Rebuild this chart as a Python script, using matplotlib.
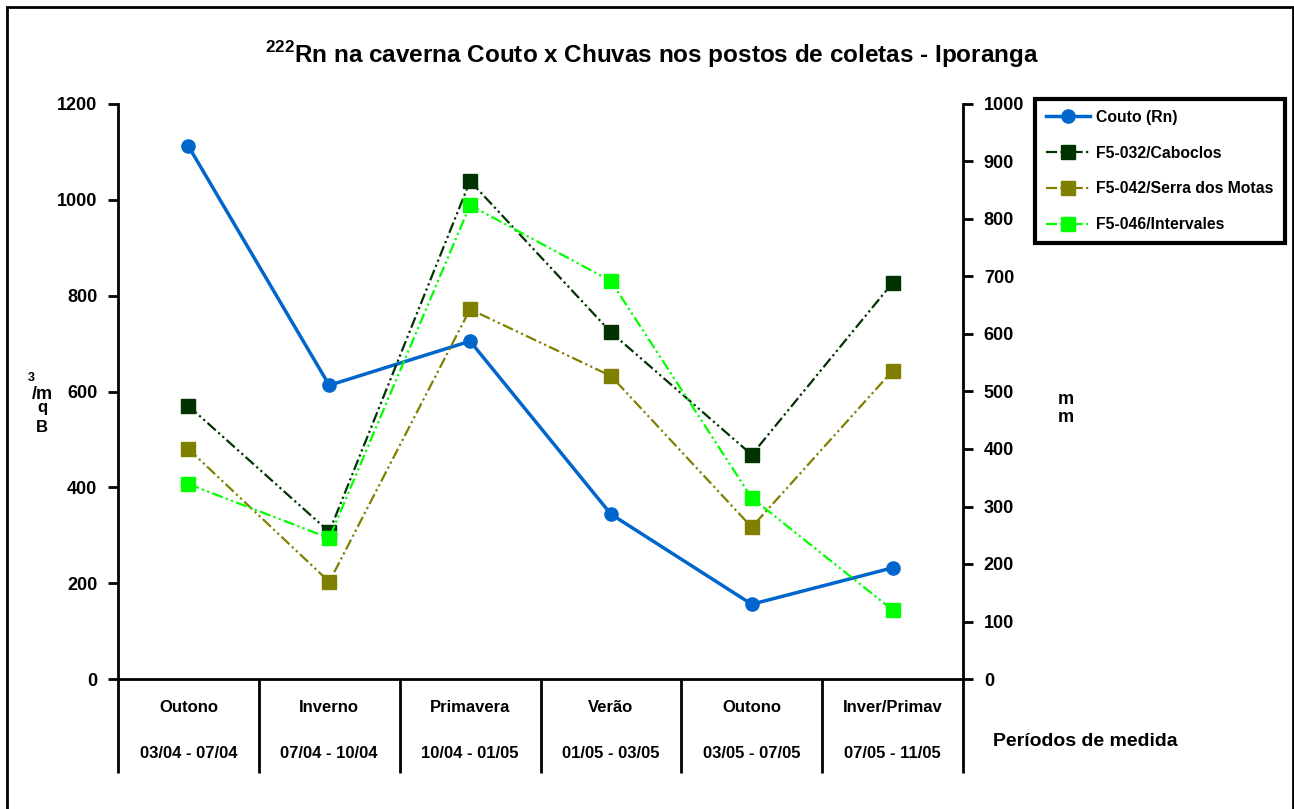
import matplotlib
matplotlib.use("Agg")
import matplotlib.pyplot as plt
import matplotlib.transforms as mtransforms
from matplotlib.patches import Rectangle

plt.rcParams['font.family'] = ['Liberation Sans', 'DejaVu Sans']
plt.rcParams['font.weight'] = 'bold'
plt.rcParams['mathtext.fontset'] = 'custom'
plt.rcParams['mathtext.rm'] = 'Liberation Sans:bold'
plt.rcParams['mathtext.bf'] = 'Liberation Sans:bold'

# --- data ---
seasons = ["Outono", "Inverno", "Primavera", "Verão", "Outono", "Inver/Primav"]
periods = ["03/04 - 07/04", "07/04 - 10/04", "10/04 - 01/05",
           "01/05 - 03/05", "03/05 - 07/05", "07/05 - 11/05"]
couto_rn = [1112, 613, 705, 344, 156, 232]          # Bq/m3 (left axis)
caboclos = [475, 256, 866, 603, 390, 689]           # mm (right axis)
serra_motas = [400, 169, 643, 527, 264, 536]
intervales = [339, 245, 824, 692, 315, 120]

W, H = 1294, 809
fig = plt.figure(figsize=(W / 100, H / 100), dpi=100)

def fx(px):
    return px / W

def fy(py):
    return 1 - py / H

# outer border (bottom edge falls outside the picture)
fig.patches.append(Rectangle((fx(7), fy(815)), fx(1293) - fx(7), fy(7) - fy(815),
                             transform=fig.transFigure, fill=False,
                             edgecolor="black", linewidth=2, clip_on=False))

ax = fig.add_axes([fx(118), fy(679), fx(963) - fx(118), fy(104) - fy(679)])
ax2 = ax.twinx()

xs = [i + 0.5 for i in range(len(seasons))]

ax.plot(xs, couto_rn, color="#0066CC", linewidth=2.5, marker="o",
        markersize=9.5, label="Couto (Rn)")

dash = (5, 1.5, 1, 1.5, 1, 1.5)
ax2.plot(xs, caboclos, color="#003300", linewidth=1.6, dashes=dash,
         marker="s", markersize=10.5, label="F5-032/Caboclos")
ax2.plot(xs, serra_motas, color="#808000", linewidth=1.6, dashes=dash,
         marker="s", markersize=10.5, label="F5-042/Serra dos Motas")
ax2.plot(xs, intervales, color="#00FF00", linewidth=1.6, dashes=dash,
         marker="s", markersize=10.5, label="F5-046/Intervales")

ax.set_xlim(0, 6)
ax.set_ylim(0, 1200)
ax.set_yticks(range(0, 1201, 200))
ax2.set_ylim(0, 1000)
ax2.set_yticks(range(0, 1001, 100))

for a in (ax, ax2):
    a.spines["top"].set_visible(False)
    for s in a.spines.values():
        s.set_linewidth(2)
ax2.spines["left"].set_visible(False)
ax2.spines["bottom"].set_visible(False)
ax.spines["right"].set_visible(False)

ax.tick_params(axis="y", direction="out", length=7, width=2, labelsize=13, pad=8)
ax2.tick_params(axis="y", direction="out", length=7, width=2, labelsize=13, pad=8)
for lab in ax.get_yticklabels() + ax2.get_yticklabels():
    lab.set_fontweight("bold")

# category "table" below the x axis
ax.set_xticks(range(7))
ax.set_xticklabels([""] * 7)
ax.tick_params(axis="x", direction="out", length=68, width=2)
tr = mtransforms.blended_transform_factory(ax.transData, fig.transFigure)
for i, (s, p) in enumerate(zip(seasons, periods)):
    ax.text(i + 0.5, fy(707), s, transform=tr,
            ha="center", va="center", fontsize=12, fontweight="bold")
    ax.text(i + 0.5, fy(753), p, transform=tr,
            ha="center", va="center", fontsize=12, fontweight="bold")

fig.text(fx(1085), fy(742), "Períodos de medida", ha="center", va="center",
         fontsize=14, fontweight="bold")

# title
fig.text(fx(652), fy(55), r"$^{222}$Rn na caverna Couto x Chuvas nos postos de coletas - Iporanga",
         ha="center", va="center", fontsize=17.5, fontweight="bold")

# axis labels (stacked characters as in the original)
fig.text(fx(31), fy(378), "3", ha="center", va="center", fontsize=9, fontweight="bold")
fig.text(fx(42), fy(394), "/m", ha="center", va="center", fontsize=13, fontweight="bold")
fig.text(fx(42), fy(408), "q", ha="center", va="center", fontsize=12, fontweight="bold")
fig.text(fx(42), fy(427), "B", ha="center", va="center", fontsize=12, fontweight="bold")
fig.text(fx(1066), fy(399), "m", ha="center", va="center", fontsize=13, fontweight="bold")
fig.text(fx(1066), fy(417), "m", ha="center", va="center", fontsize=13, fontweight="bold")

# legend
h1, l1 = ax.get_legend_handles_labels()
h2, l2 = ax2.get_legend_handles_labels()
leg = fig.legend(h1 + h2, l1 + l2, loc="upper left",
                 bbox_to_anchor=(fx(1035), fy(99)), bbox_transform=fig.transFigure,
                 frameon=True, fancybox=False, edgecolor="black", framealpha=1,
                 fontsize=11.3, labelspacing=1.32, handlelength=2.8,
                 handletextpad=0.4, borderpad=0.7, borderaxespad=0)
leg.get_frame().set_linewidth(3)
for t in leg.get_texts():
    t.set_fontweight("bold")

fig.savefig("out.png", dpi=100)
